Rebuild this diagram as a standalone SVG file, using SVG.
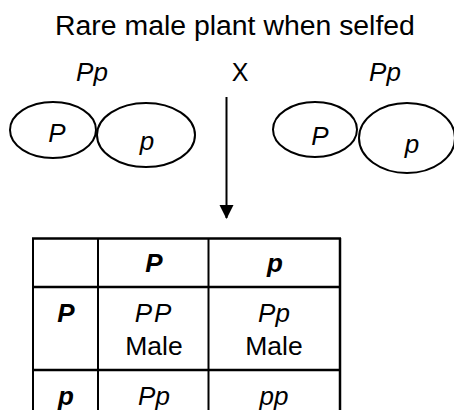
<svg xmlns="http://www.w3.org/2000/svg" width="454" height="410" viewBox="0 0 454 410">
  <defs>
    <marker id="arrowhead" markerWidth="14" markerHeight="16" refX="13" refY="7" orient="auto" markerUnits="userSpaceOnUse">
      <path d="M0,0 L14,7 L0,14 Z" fill="#000"/>
    </marker>
  </defs>
  <style>
    text { font-family: "Liberation Sans", Arial, sans-serif; fill: #000; text-anchor: middle; }
    .title { font-size: 28.4px; }
    .geno { font-size: 26px; font-style: italic; }
    .cross { font-size: 25px; }
    .gamete { fill: none; stroke: #000; stroke-width: 2; }
    .allele { font-size: 26px; font-style: italic; }
    .hdr { font-size: 26px; font-style: italic; font-weight: bold; }
    .cell { font-size: 26px; font-style: italic; }
    .pheno { font-size: 26.5px; }
    .grid { stroke: #000; stroke-width: 2.5; fill: none; }
    .gridthin { stroke: #000; stroke-width: 2; fill: none; }
  </style>

  <text class="title" x="235" y="35">Rare male plant when selfed</text>

  <g id="parent-left">
    <text class="geno" x="92" y="81">Pp</text>
    <g id="gamete-left-P">
      <ellipse class="gamete" cx="53" cy="130" rx="43" ry="28"/>
      <text class="allele" x="57" y="142">P</text>
    </g>
    <g id="gamete-left-p">
      <ellipse class="gamete" cx="146" cy="135" rx="49" ry="32"/>
      <text class="allele" x="147" y="150">p</text>
    </g>
  </g>

  <text id="cross" class="cross" x="240" y="81">X</text>

  <g id="parent-right">
    <text class="geno" x="385" y="81">Pp</text>
    <g id="gamete-right-P">
      <ellipse class="gamete" cx="315" cy="129.5" rx="42" ry="27.5"/>
      <text class="allele" x="320" y="145">P</text>
    </g>
    <g id="gamete-right-p">
      <ellipse class="gamete" cx="407" cy="138" rx="48" ry="35"/>
      <text class="allele" x="412" y="153">p</text>
    </g>
  </g>

  <g id="connectors">
    <line x1="226.5" y1="97" x2="226.5" y2="218" stroke="#000" stroke-width="2" marker-end="url(#arrowhead)"/>
  </g>

  <g id="punnett">
    <line class="grid" x1="32" y1="238.5" x2="341" y2="238.5"/>
    <line class="grid" x1="32" y1="287" x2="341" y2="287"/>
    <line class="grid" x1="32" y1="370" x2="341" y2="370"/>
    <line class="gridthin" x1="33" y1="238" x2="33" y2="410"/>
    <line class="gridthin" x1="98" y1="238" x2="98" y2="410"/>
    <line class="gridthin" x1="208.5" y1="238" x2="208.5" y2="410"/>
    <line class="grid" x1="340" y1="238" x2="340" y2="410"/>

    <text class="hdr" x="154" y="272">P</text>
    <text class="hdr" x="275" y="272">p</text>
    <text class="hdr" x="66" y="322">P</text>
    <text class="hdr" x="66" y="405">p</text>

    <text class="cell" x="154" y="322" letter-spacing="2">PP</text>
    <text class="pheno" x="154" y="355">Male</text>
    <text class="cell" x="274" y="322">Pp</text>
    <text class="pheno" x="274" y="355">Male</text>

    <text class="cell" x="154" y="405">Pp</text>
    <text class="cell" x="274" y="405">pp</text>
  </g>
</svg>
